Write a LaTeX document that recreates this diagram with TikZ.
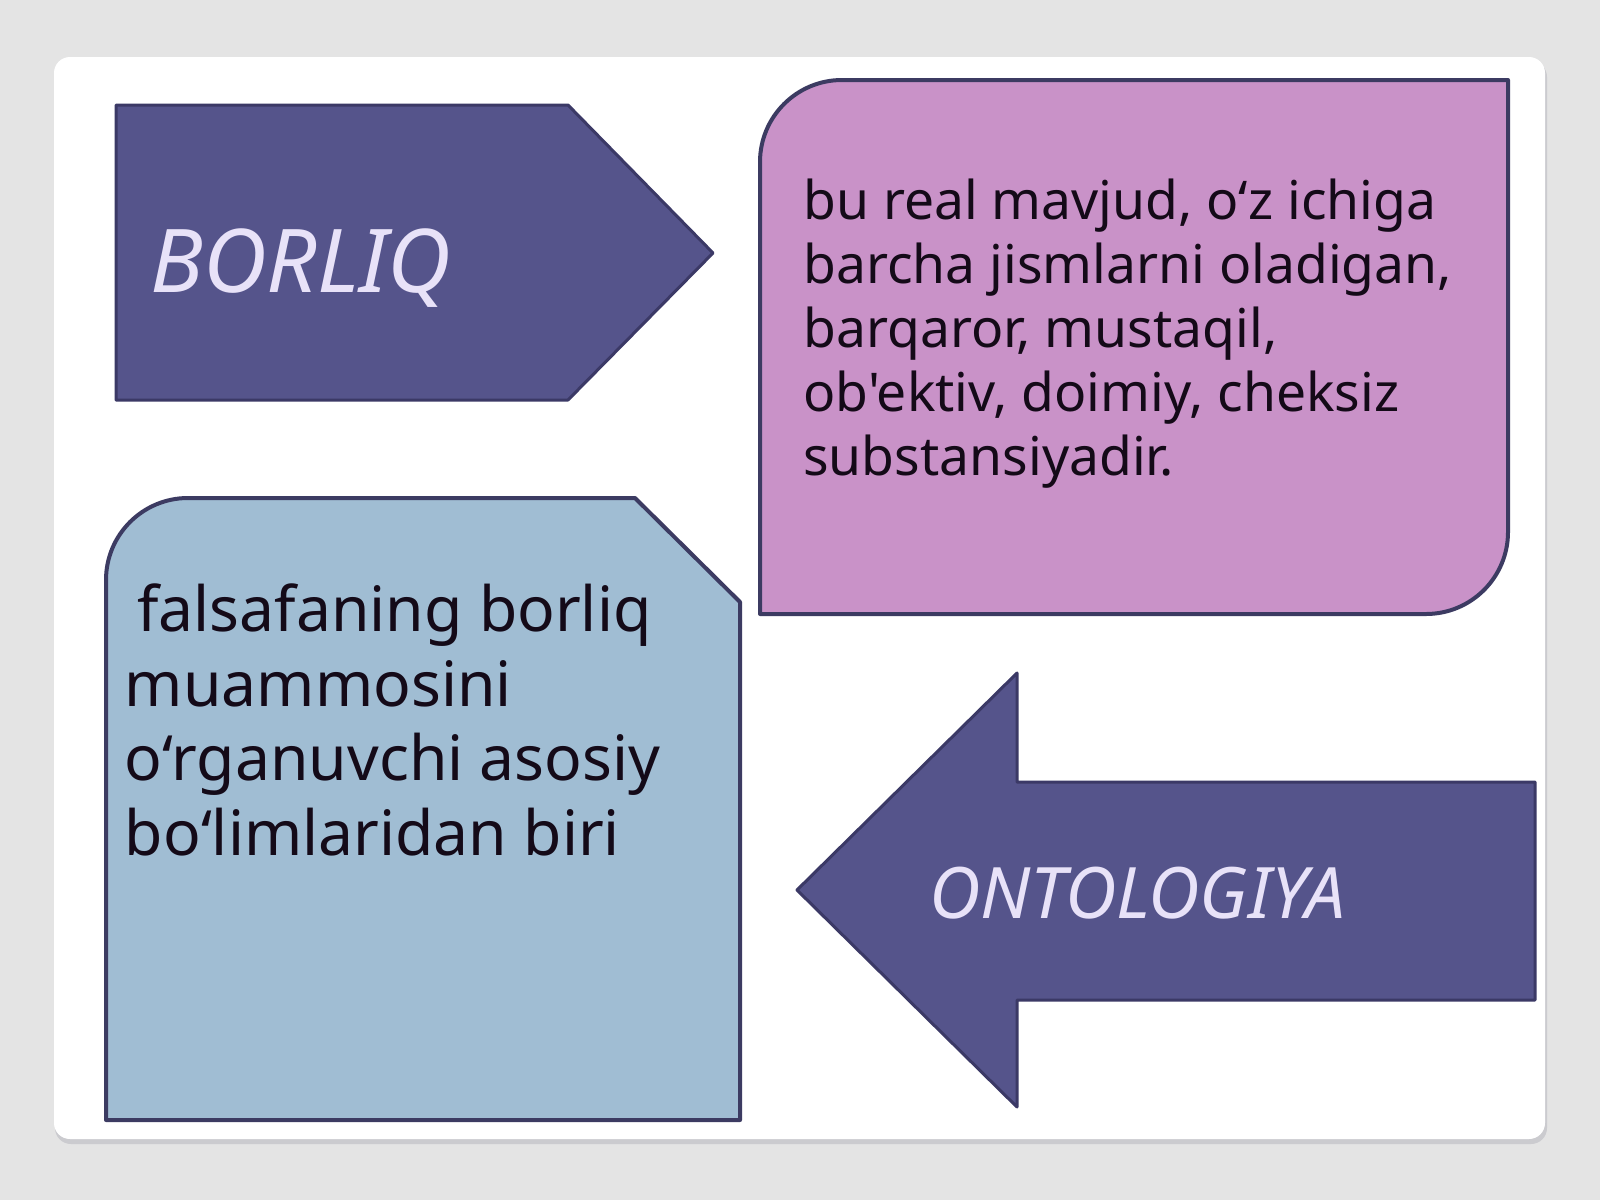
\documentclass[tikz,border=0pt]{standalone}
\usepackage{fontspec}
\newfontfamily\bodyfont{Noto Sans}
\begin{document}
\begin{tikzpicture}[x=0.5pt,y=-0.5pt]
\definecolor{bgc}{HTML}{E4E4E4}
\definecolor{shadowc}{HTML}{CBCBCF}
\definecolor{navyfill}{HTML}{55548B}
\definecolor{navyline}{HTML}{3B3966}
\definecolor{pinkfill}{HTML}{C992C8}
\definecolor{bluefill}{HTML}{A0BDD3}
\definecolor{edgec}{HTML}{3C3B62}
\definecolor{titlec}{HTML}{E8E2F8}
\definecolor{textc}{HTML}{140A18}
\tikzset{
  navyshape/.style={fill=navyfill, draw=navyline, line width=1.5pt, line join=round},
  boxshape/.style={draw=edgec, line width=2pt, line join=round},
  title/.style={text=titlec, inner sep=0pt, font=\bodyfont\itshape\fontsize{44}{52}\selectfont},
  bodytext/.style={text=textc, inner sep=0pt, align=left, anchor=base west},
}
\useasboundingbox (0,0) rectangle (1600,1200);
\fill[bgc] (0,0) rectangle (1600,1200);
% card
\fill[shadowc, rounded corners=8pt] (55,61) rectangle (1547,1144);
\fill[white, rounded corners=8pt] (54,57) rectangle (1545,1139);
% BORLIQ pentagon
\draw[navyshape] (116,105) -- (568,105) -- (713,253) -- (568,400) -- (116,400) -- cycle;
\node[title, anchor=base west] (borliq) at (150,292) {BORLIQ};
% pink box
\draw[boxshape, fill=pinkfill] (760,614) -- (760,162) arc[start angle=180, end angle=270, radius=82]
  -- (1508,80) -- (1508,532) arc[start angle=0, end angle=90, radius=82] -- cycle;
\node[bodytext, font=\bodyfont\fontsize{26.7}{31.9}\selectfont] (def) at (803,475)
  {bu real mavjud, o‘z ichiga\\barcha jismlarni oladigan,\\barqaror, mustaqil,\\ob'ektiv, doimiy, cheksiz\\substansiyadir.};
% blue box
\draw[boxshape, fill=bluefill] (106,1120) -- (106,580) arc[start angle=180, end angle=270, radius=82]
  -- (635,498) -- (740,602) -- (740,1120) -- cycle;
\node[bodytext, font=\bodyfont\fontsize{31.2}{37.2}\selectfont] (onto) at (124.5,855)
  {\hspace*{0.2em}falsafaning borliq\\muammosini\\o‘rganuvchi asosiy\\bo‘limlaridan biri};
% ONTOLOGIYA arrow
\draw[navyshape] (797,890) -- (1017,673) -- (1017,782) -- (1535,782) -- (1535,1000)
  -- (1017,1000) -- (1017,1107) -- cycle;
\node[title, anchor=base west, font=\bodyfont\itshape\fontsize{35.5}{44}\selectfont] (ontol) at (929,918) {ONTOLOGIYA};
\end{tikzpicture}
\end{document}
